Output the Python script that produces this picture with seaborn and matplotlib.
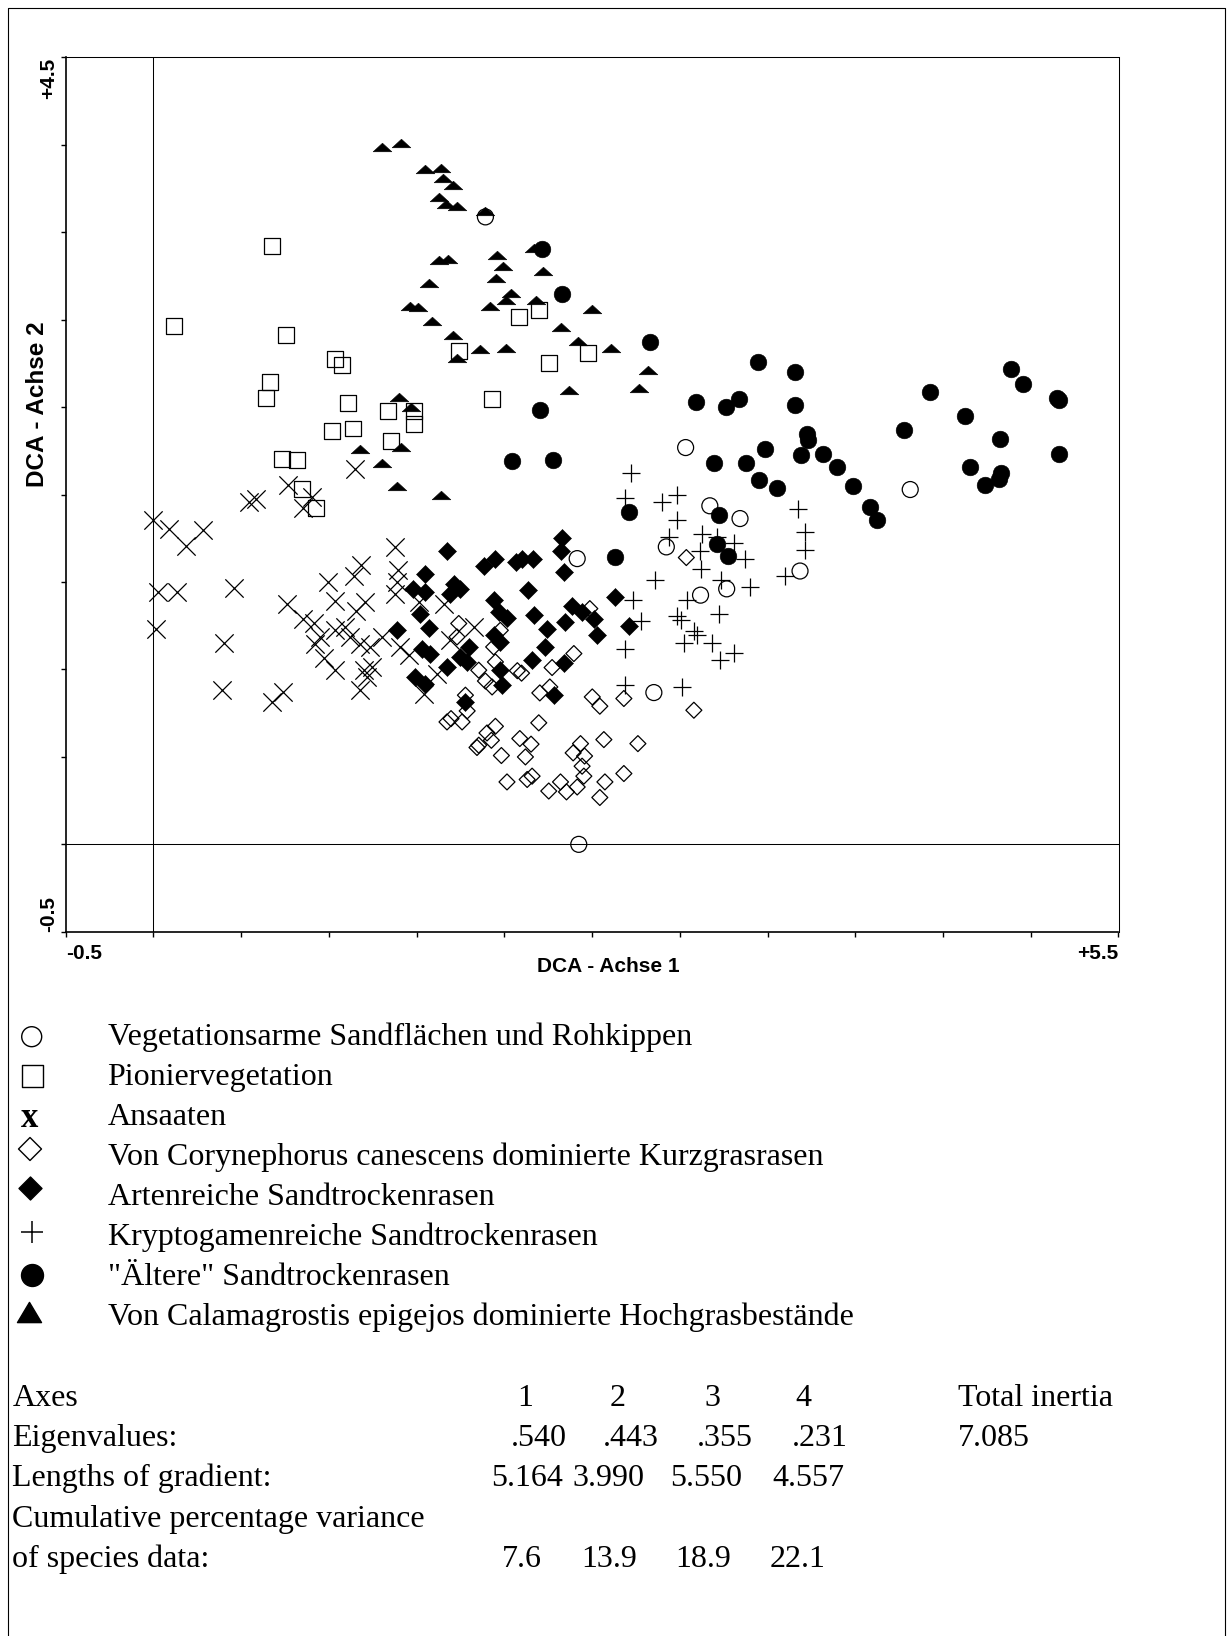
import numpy as np
import matplotlib
matplotlib.use('Agg')
import matplotlib.pyplot as plt
from matplotlib.path import Path
import seaborn as sns

sns.set_theme(style='white')
plt.rcParams['font.family'] = ['Liberation Sans', 'DejaVu Sans']

# ---- DCA scores per vegetation type (axis 1, axis 2) ----
# open circles: Vegetationsarme Sandflaechen und Rohkippen
sand_x = [1.892, 3.033, 4.313, 3.685, 3.171, 3.343, 2.415, 2.923, 3.118, 3.267, 2.852, 2.424]
sand_y = [3.588, 2.269, 2.029, 1.563, 1.936, 1.863, 1.634, 1.701, 1.425, 1.461, 0.868, 0.0]

# open squares: Pioniervegetation
pion_x = [0.675, 0.119, 0.757, 1.036, 1.074, 0.665, 0.642, 1.107, 1.335, 1.483, 1.483, 1.015,
          1.135, 1.355, 0.734, 0.817, 0.848, 0.924, 2.082, 2.196, 1.740, 2.476, 2.255, 1.930]
pion_y = [3.420, 2.963, 2.911, 2.774, 2.743, 2.644, 2.555, 2.524, 2.477, 2.479, 2.402, 2.364,
          2.378, 2.305, 2.202, 2.196, 2.030, 1.924, 3.016, 3.054, 2.820, 2.812, 2.753, 2.549]

# x marks: Ansaaten
ans_x = [-0.001, 0.091, 0.282, 0.185, 0.024, 0.133, 0.462, 0.015, 0.405, 0.390, 0.738, 0.675,
         0.542, 0.586, 0.766, 0.903, 0.855, 1.146, 1.379, 1.183, 1.145, 0.995, 1.393, 1.388,
         1.379, 0.761, 1.036, 1.207, 1.156, 0.855, 0.913, 0.951, 1.036, 1.093, 1.121, 1.179,
         0.922, 0.970, 1.036, 1.236, 1.302, 1.407, 1.454, 1.198, 1.245, 1.217, 1.175, 1.540,
         1.654, 1.692, 1.825, 1.616, 1.511]
ans_y = [1.853, 1.806, 1.800, 1.705, 1.443, 1.443, 1.467, 1.229, 1.154, 0.881, 0.872, 0.814,
         1.955, 1.974, 2.057, 1.987, 1.926, 2.149, 1.701, 1.596, 1.535, 1.501, 1.567, 1.501,
         1.434, 1.373, 1.390, 1.386, 1.335, 1.291, 1.263, 1.186, 1.224, 1.243, 1.186, 1.148,
         1.148, 1.063, 0.996, 1.129, 1.186, 1.129, 1.081, 0.996, 1.015, 0.958, 0.881, 0.862,
         1.377, 1.167, 1.243, 0.977, 1.386]

# open diamonds: Corynephorus canescens
cory_x = [2.396, 2.272, 2.074, 2.098, 1.949, 1.854, 1.892, 1.930, 2.202, 2.259, 2.501, 2.544,
          2.681, 3.080, 1.778, 1.788, 1.759, 1.673, 1.696, 1.949, 1.901, 1.926, 1.854, 1.844,
          1.983, 2.088, 2.152, 2.120, 2.196, 2.567, 2.761, 2.434, 2.392, 2.457, 2.443, 2.453,
          2.415, 2.354, 2.320, 2.253, 2.015, 2.130, 2.158, 2.573, 2.681, 2.544, 3.037, 2.487,
          1.977, 1.740, 1.730, 1.939]
cory_y = [1.091, 1.011, 0.993, 0.979, 1.043, 0.996, 0.934, 0.900, 0.866, 0.900, 0.843, 0.790,
          0.834, 0.767, 0.853, 0.763, 0.700, 0.700, 0.719, 0.675, 0.637, 0.595, 0.567, 0.554,
          0.508, 0.605, 0.573, 0.500, 0.695, 0.599, 0.576, 0.576, 0.523, 0.505, 0.447, 0.390,
          0.328, 0.300, 0.357, 0.305, 0.357, 0.371, 0.390, 0.357, 0.405, 0.268, 1.640, 1.348,
          1.224, 1.263, 1.186, 1.129]

# filled diamonds: Artenreiche Sandtrockenrasen
art_x = [1.673, 2.326, 2.320, 2.339, 1.945, 1.886, 2.068, 2.101, 2.164, 2.133, 1.549, 1.479,
         1.549, 1.711, 1.749, 1.692, 2.633, 1.939, 1.968, 2.015, 2.167, 2.243, 2.348, 2.386,
         2.443, 2.510, 2.529, 1.521, 1.568, 2.710, 2.229, 1.939, 1.977, 1.796, 1.531, 1.578,
         1.749, 1.673, 1.788, 2.158, 2.339, 1.977, 1.987, 1.492, 1.549, 2.282, 1.778, 1.387]
art_y = [1.678, 1.754, 1.678, 1.558, 1.629, 1.590, 1.615, 1.634, 1.629, 1.453, 1.548, 1.463,
         1.443, 1.491, 1.463, 1.434, 1.415, 1.396, 1.329, 1.297, 1.310, 1.234, 1.272, 1.362,
         1.329, 1.286, 1.196, 1.320, 1.240, 1.247, 1.129, 1.196, 1.158, 1.129, 1.119, 1.091,
         1.072, 1.014, 1.043, 1.057, 1.038, 0.996, 0.910, 0.958, 0.919, 0.853, 0.814, 1.224]

# plus: Kryptogamenreiche Sandtrockenrasen
kry_x = [2.719, 2.686, 2.900, 2.985, 2.982, 2.938, 3.128, 3.214, 3.308, 3.114, 3.370, 3.118,
         2.856, 3.236, 3.399, 3.598, 2.735, 3.039, 2.780, 3.225, 2.985, 3.004, 3.080, 3.099,
         3.023, 3.185, 3.308, 3.229, 2.686, 2.686, 3.014, 3.674, 3.712, 3.712]
kry_y = [2.121, 1.981, 1.958, 1.996, 1.853, 1.758, 1.777, 1.758, 1.724, 1.678, 1.629, 1.572,
         1.510, 1.510, 1.472, 1.535, 1.396, 1.396, 1.277, 1.316, 1.304, 1.282, 1.221, 1.196,
         1.149, 1.149, 1.095, 1.057, 1.119, 0.914, 0.900, 1.915, 1.786, 1.682]

# filled circles: "Aeltere" Sandtrockenrasen
alt_x = [2.215, 2.326, 2.829, 3.445, 3.655, 3.090, 3.261, 3.337, 3.655, 2.202, 3.723, 3.730,
         3.488, 3.689, 3.816, 3.898, 3.552, 3.989, 4.085, 4.126, 4.278, 4.427, 4.624, 4.826,
         4.655, 4.738, 4.830, 4.820, 4.890, 4.957, 5.148, 5.163, 5.163, 2.044, 2.278, 3.194,
         3.375, 3.451, 2.710, 3.223, 3.210, 3.276, 2.633]
alt_y = [3.403, 3.146, 2.873, 2.759, 2.702, 2.530, 2.501, 2.545, 2.515, 2.486, 2.349, 2.315,
         2.258, 2.229, 2.234, 2.158, 2.038, 2.052, 1.930, 1.853, 2.372, 2.584, 2.448, 2.319,
         2.158, 2.054, 2.121, 2.092, 2.721, 2.630, 2.555, 2.539, 2.234, 2.191, 2.196, 2.178,
         2.181, 2.082, 1.901, 1.886, 1.716, 1.649, 1.644]

# filled triangles: Calamagrostis epigejos
cal_x = [1.30, 1.41, 1.55, 1.64, 1.65, 1.71, 1.63, 1.67, 1.73, 1.63, 1.68, 1.57, 1.46, 1.51,
         1.59, 1.71, 1.73, 1.40, 1.47, 1.18, 1.41, 1.30, 1.39, 1.64, 1.89, 1.96, 1.99, 1.95,
         2.22, 2.17, 2.04, 2.01, 1.92, 2.18, 2.50, 2.32, 2.42, 2.61, 1.86, 2.01, 2.82, 2.77, 2.37]
cal_y = [3.99, 4.01, 3.86, 3.87, 3.81, 3.77, 3.70, 3.66, 3.65, 3.34, 3.35, 3.21, 3.08, 3.07,
         2.99, 2.91, 2.78, 2.56, 2.50, 2.26, 2.27, 2.18, 2.05, 2.00, 3.62, 3.37, 3.31, 3.24,
         3.28, 3.41, 3.15, 3.11, 3.08, 3.11, 3.06, 2.96, 2.88, 2.84, 2.83, 2.84, 2.71, 2.61, 2.60]

legend_labels = ['Vegetationsarme Sandflächen und Rohkippen',
                 'Pioniervegetation',
                 'Ansaaten',
                 'Von Corynephorus canescens dominierte Kurzgrasrasen',
                 'Artenreiche Sandtrockenrasen',
                 'Kryptogamenreiche Sandtrockenrasen',
                 '"Ältere" Sandtrockenrasen',
                 'Von Calamagrostis epigejos dominierte Hochgrasbestände']

axes_nums = ['1', '2', '3', '4']
eigenvalues = ['.540', '.443', '.355', '.231']
grad_lengths = ['5.164', '3.990', '5.550', '4.557']
cum_var = ['7.6', '13.9', '18.9', '22.1']
total_inertia = '7.085'

# ---- figure ----
W, H = 1227, 1636
fig = plt.figure(figsize=(W / 100, H / 100), dpi=100)
fig.patch.set_facecolor('white')

# overlay in pixel units for legend, table and frame
ov = fig.add_axes([0, 0, 1, 1], zorder=0)
ov.set_xlim(0, W)
ov.set_ylim(H, 0)
ov.axis('off')

L, R, T, B = 65.7, 1118.5, 57.4, 931.8
ax = fig.add_axes([L / W, 1 - B / H, (R - L) / W, (B - T) / H], zorder=2)
ax.set_facecolor('white')

flat_tri = Path([(-1, -0.46), (1, -0.46), (0, 0.46), (-1, -0.46)],
                [Path.MOVETO, Path.LINETO, Path.LINETO, Path.CLOSEPOLY])

sns.scatterplot(x=cory_x, y=cory_y, ax=ax, marker='D', s=66, facecolors='none',
                edgecolor='black', linewidth=0.9, zorder=3)
sns.scatterplot(x=art_x, y=art_y, ax=ax, marker='D', s=84, color='black',
                edgecolor='black', linewidth=0.4, zorder=3)
sns.scatterplot(x=ans_x, y=ans_y, ax=ax, marker='x', s=174, color='black',
                linewidth=0.9, zorder=3)
sns.scatterplot(x=kry_x, y=kry_y, ax=ax, marker='+', s=169, color='black',
                linewidth=0.9, zorder=3)
sns.scatterplot(x=pion_x, y=pion_y, ax=ax, marker='s', s=132, facecolors='none',
                edgecolor='black', linewidth=0.9, zorder=3)
sns.scatterplot(x=sand_x, y=sand_y, ax=ax, marker='o', s=132, facecolors='none',
                edgecolor='black', linewidth=0.9, zorder=3)
sns.scatterplot(x=alt_x, y=alt_y, ax=ax, marker='o', s=144, color='black',
                edgecolor='black', linewidth=0.4, zorder=3)
sns.scatterplot(x=cal_x, y=cal_y, ax=ax, marker=flat_tri, s=180, color='black',
                edgecolor='black', linewidth=0.4, zorder=4)

ax.axvline(0, color='black', lw=0.75, zorder=1)
ax.axhline(0, color='black', lw=0.75, zorder=1)

ax.set_xlim(-0.5, 5.5)
ax.set_ylim(-0.5, 4.5)
ax.set_xticks(np.arange(-0.5, 5.51, 0.5))
ax.set_yticks(np.arange(-0.5, 4.51, 0.5))
ax.tick_params(direction='out', length=3.6, width=1.0, color='black',
               bottom=True, left=True, top=False, right=False,
               labelbottom=False, labelleft=False)
ax.set_xlabel('')
ax.set_ylabel('')
for side in ['left', 'bottom']:
    ax.spines[side].set_color('black')
    ax.spines[side].set_linewidth(1.2)
for side in ['top', 'right']:
    ax.spines[side].set_color('black')
    ax.spines[side].set_linewidth(0.75)

# end-of-axis labels
lab = dict(fontsize=15, fontweight='bold', color='black')
ax.annotate('-0.5', xy=(-0.5, 0), xycoords=('data', 'axes fraction'),
            xytext=(0, -15.5), textcoords='offset points', ha='left', va='center', **lab)
ax.annotate('+5.5', xy=(5.5, 0), xycoords=('data', 'axes fraction'),
            xytext=(0, -15.5), textcoords='offset points', ha='right', va='center', **lab)
ax.annotate('+4.5', xy=(0, 4.5), xycoords=('axes fraction', 'data'),
            xytext=(-12, 0), textcoords='offset points', ha='center', va='top',
            rotation=90, **lab)
ax.annotate('-0.5', xy=(0, -0.5), xycoords=('axes fraction', 'data'),
            xytext=(-12, 0), textcoords='offset points', ha='center', va='bottom',
            rotation=90, **lab)

ov.text(608, 966, 'DCA - Achse 1', ha='center', va='center', **lab)
ov.text(37.5, 404, 'DCA - Achse 2', ha='center', va='center', rotation=90,
        **{**lab, 'fontsize': 17.5})

# ---- legend ----
serif = dict(family=['Liberation Serif', 'DejaVu Serif'], fontsize=23.0, color='black')
base = [1045, 1085, 1125, 1165, 1205, 1245, 1285, 1325]
for b, t in zip(base, legend_labels):
    ov.text(107.5, b, t, ha='left', va='baseline', **serif)

leg_tri = Path([(-1, -0.84), (1, -0.84), (0, 0.84), (-1, -0.84)],
               [Path.MOVETO, Path.LINETO, Path.LINETO, Path.CLOSEPOLY])
ov.scatter([31.7], [1036.7], marker='o', s=207, facecolors='none', edgecolors='black', linewidths=1.0)
ov.scatter([32.3], [1076], marker='s', s=240, facecolors='none', edgecolors='black', linewidths=1.0)
ov.text(30, 1127, 'x', ha='center', va='baseline', fontweight='bold', **{**serif, 'fontsize': 25})
ov.scatter([30], [1149], marker='D', s=137, facecolors='none', edgecolors='black', linewidths=1.0)
ov.scatter([30], [1188], marker='D', s=137, color='black')
ov.scatter([31.7], [1232], marker='+', s=250, color='black', linewidths=1.1)
ov.scatter([31.7], [1274.5], marker='o', s=250, color='black')
ov.scatter([29.3], [1312], marker=leg_tri, s=300, color='black')

# ---- statistics table ----
rows = [1406, 1446.2, 1486.4, 1526.6, 1566.8]
ov.text(12.5, rows[0], 'Axes', ha='left', va='baseline', **serif)
ov.text(12.5, rows[1], 'Eigenvalues:', ha='left', va='baseline', **serif)
ov.text(12.5, rows[2], 'Lengths of gradient:', ha='left', va='baseline', **serif)
ov.text(12.5, rows[3], 'Cumulative percentage variance', ha='left', va='baseline', **serif)
ov.text(12.5, rows[4], 'of species data:', ha='left', va='baseline', **serif)

for xp, t in zip([517.0, 609.8, 704.8, 795.6], axes_nums):
    ov.text(xp, rows[0], t, ha='left', va='baseline', **serif)
for xp, t in zip([511.3, 603.0, 697.0, 792.0], eigenvalues):
    ov.text(xp, rows[1], t, ha='left', va='baseline', **serif)
for xp, t in zip([491.4, 572.8, 669.9, 772.1], grad_lengths):
    ov.text(xp, rows[2], t, ha='left', va='baseline', **serif)
for xp, t in zip([501.9, 581.2, 675.0, 770.0], cum_var):
    ov.text(xp, rows[4], t, ha='left', va='baseline', **serif)
ov.text(958, rows[0], 'Total inertia', ha='left', va='baseline', **serif)
ov.text(958, rows[1], total_inertia, ha='left', va='baseline', **serif)

# outer frame
ov.plot([8, 8, 1225, 1225], [H, 8, 8, H], color='black', lw=0.8)

fig.savefig('out.png', dpi=100, facecolor='white')
